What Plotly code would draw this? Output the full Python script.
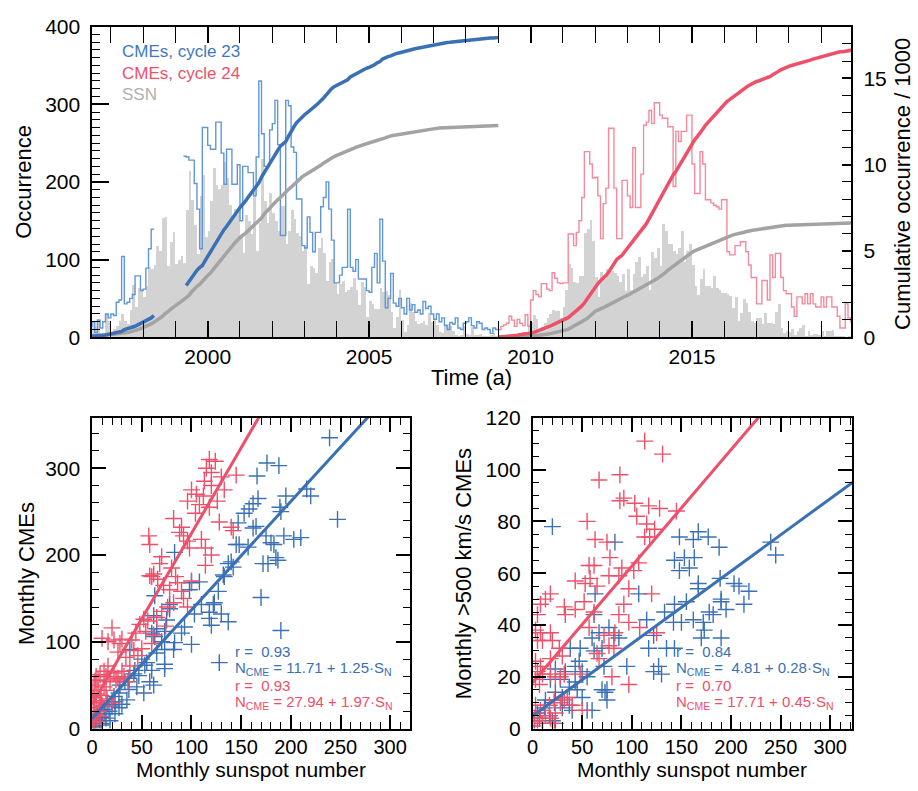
import numpy as np
import plotly.graph_objects as go

W, H = 918, 791
FONT = "Liberation Sans, Arial, Helvetica, sans-serif"

BLUE = "#3a70b5"
BLUE_LIGHT = "#5f97d8"
RED = "#ee4f69"
RED_LIGHT = "#f48a9c"
GRAY = "#a3a3a3"
GRAY_BAR = "#d3d3d3"

# ---------------- monthly data ----------------
# Monthly CME counts, cycle 23 (Jan 1996 - Dec 2008); None = SOHO data gap
cme23 = (
    [8, 10, 12, 10, 14, 20, 6, 22, 12, 20, 30, 25]                      # 1996
    + [30, 28, 45, 48, 104, 43, 45, 50, 55, 79, 79, 60]                 # 1997
    + [62, 89, 114, 139, None, None, None, None, None, None, None, None]  # 1998
    + [None, None, None, 233, 232, 228, 228, 198, 165, 114, 270, 270]   # 1999
    + [247, 242, 242, 277, 277, 237, 197, 242, 242, 197, 197, 222]      # 2000
    + [150, 220, 220, 212, 212, 182, 232, 330, 262, 220, 220, 267]      # 2001
    + [275, 305, 248, 131, 131, 305, 298, 245, 238, 178, 178, 118]      # 2002
    + [115, 155, 135, 110, 135, 135, 168, 180, 200, 165, 125, 70]       # 2003
    + [70, 80, 90, 90, 165, 90, 85, 100, 75, 75, 75, 60]                # 2004
    + [58, 90, 108, 70, 152, 98, 38, 50, 82, 44, 40, 50]                # 2005
    + [38, 30, 50, 35, 42, 32, 35, 30, 46, 37, 40, 30]                  # 2006
    + [23, 30, 20, 25, 15, 10, 19, 17, 25, 12, 10, 18]                  # 2007
    + [20, 25, 15, 12, 20, 18, 10, 12, 10, 5, 12, 10]                   # 2008
)
# events in the May 1998 - Mar 1999 data gap, counted in the cumulative total
cme23_gap_total = 1500

# Monthly CME counts, cycle 24 (Jan 2009 - Dec 2019)
cme24 = (
    [10, 14, 16, 18, 27, 22, 14, 23, 18, 15, 29, 14]                    # 2009
    + [48, 60, 55, 52, 69, 69, 62, 60, 83, 76, 70, 69]                  # 2010
    + [70, 70, 133, 133, 118, 135, 150, 180, 239, 239, 223, 205]        # 2011
    + [206, 182, 127, 172, 192, 269, 269, 192, 127, 127, 202, 202]      # 2012
    + [182, 167, 244, 167, 167, 210, 273, 277, 292, 275, 302, 302]      # 2013
    + [286, 282, 282, 271, 271, 194, 265, 252, 265, 265, 286, 286]      # 2014
    + [223, 185, 185, 239, 223, 177, 177, 173, 170, 168, 165, 177]      # 2015
    + [177, 110, 106, 106, 118, 118, 123, 123, 110, 93, 77, 77]         # 2016
    + [43, 43, 73, 73, 48, 106, 77, 108, 108, 77, 60, 56]               # 2017
    + [56, 39, 27, 52, 52, 43, 56, 43, 56, 43, 39, 39]                  # 2018
    + [52, 39, 52, 52, 39, 39, 27, 12, 12, 43, 25, 20]                  # 2019
)

# Monthly sunspot number, cycle 23 (Jan 1996 - Dec 2008)
ssn23 = (
    [19, 7, 15, 8, 9, 20, 14, 24, 3, 2, 30, 22]                         # 1996
    + [7, 11, 15, 22, 30, 22, 18, 36, 68, 39, 64, 63]                   # 1997
    + [53, 67, 91, 89, 94, 118, 111, 154, 155, 92, 123, 136]            # 1998
    + [95, 100, 105, 96, 165, 215, 177, 145, 108, 182, 210, 130]        # 1999
    + [138, 176, 218, 197, 191, 196, 226, 206, 171, 154, 166, 162]      # 2000
    + [131, 109, 158, 150, 133, 189, 111, 148, 230, 176, 148, 186]      # 2001
    + [160, 150, 137, 170, 170, 121, 138, 164, 153, 135, 131, 112]      # 2002
    + [119, 69, 92, 90, 83, 116, 128, 109, 73, 98, 101, 70]             # 2003
    + [56, 69, 73, 59, 62, 65, 77, 61, 42, 72, 65, 27]                  # 2004
    + [47, 44, 37, 37, 64, 59, 60, 55, 33, 13, 27, 62]                  # 2005
    + [23, 7, 16, 45, 33, 21, 18, 19, 22, 16, 32, 20]                   # 2006
    + [25, 16, 7, 6, 18, 18, 15, 9, 4, 1, 3, 15]                        # 2007
    + [5, 3, 14, 4, 4, 5, 1, 1, 2, 4, 6, 1]                             # 2008
)
# Monthly sunspot number, cycle 24 (Jan 2009 - Dec 2019)
ssn24 = (
    [2, 1, 1, 1, 4, 5, 5, 1, 6, 7, 7, 17]                               # 2009
    + [20, 29, 24, 10, 14, 19, 25, 30, 36, 34, 34, 25]                  # 2010
    + [40, 62, 95, 90, 72, 70, 80, 80, 135, 140, 152, 125]              # 2011
    + [78, 52, 84, 75, 88, 85, 86, 83, 80, 72, 82, 60]                  # 2012
    + [88, 62, 82, 97, 104, 78, 82, 92, 62, 110, 102, 115]              # 2013
    + [92, 146, 137, 120, 121, 111, 108, 115, 138, 98, 112, 121]        # 2014
    + [93, 67, 55, 75, 89, 67, 66, 64, 79, 64, 62, 58]                  # 2015
    + [57, 56, 54, 38, 52, 21, 32, 50, 45, 33, 21, 19]                  # 2016
    + [26, 26, 18, 32, 19, 19, 18, 33, 44, 13, 6, 8]                    # 2017
    + [7, 11, 3, 9, 13, 16, 2, 9, 3, 5, 5, 3]                           # 2018
    + [8, 1, 9, 9, 10, 1, 1, 1, 1, 0, 1, 2]                             # 2019
)

start23, start24 = 1996.0, 2009.0

# ---------------- scatter data: (sunspot number, CMEs per month) ----------------
all_c23 = [
    (239, 335), (176, 306), (188, 303), (166, 291), (216, 276), (220, 268), (195, 268),
    (167, 265), (162, 259), (158, 253), (153, 248), (189, 255), (190, 250), (147, 237),
    (165, 233), (162, 231), (247, 241), (175, 222), (193, 222), (210, 220), (203, 218),
    (180, 214), (183, 212), (145, 212), (148, 212), (157, 209), (83, 203), (185, 197),
    (187, 194), (172, 190), (177, 190), (142, 186), (137, 190), (133, 175), (108, 169),
    (100, 168), (98, 160), (63, 153), (170, 151), (123, 145), (122, 143), (78, 143),
    (78, 138), (118, 134), (130, 132), (118, 127), (120, 119), (137, 123), (62, 130),
    (75, 125), (65, 115), (190, 113), (73, 112), (63, 106), (60, 110), (38, 91),
    (70, 100), (73, 91), (82, 91), (100, 97), (128, 76), (50, 80), (55, 76), (73, 74),
    (73, 69), (60, 67), (58, 54), (62, 50), (52, 41), (43, 67), (42, 63), (37, 58),
    (33, 54), (28, 50), (37, 45), (27, 41), (35, 33), (23, 31), (20, 26), (27, 24),
    (17, 20), (13, 17), (8, 13), (7, 9), (3, 6), (12, 22), (22, 37), (15, 28), (5, 17),
    (10, 6), (18, 9), (23, 17), (30, 28), (47, 61), (53, 73), (45, 48), (65, 87),
    (83, 99), (90, 110), (93, 117), (103, 132), (110, 143), (127, 158), (132, 177),
    (140, 192), (2, 4), (1, 2), (4, 10), (9, 4), (14, 12),
]
all_c24 = [
    (118, 310), (124, 308), (115, 300), (120, 295), (113, 285), (120, 280), (130, 290),
    (145, 292), (133, 275), (100, 275), (105, 270), (112, 268), (108, 258), (96, 262),
    (118, 255), (126, 262), (104, 248), (82, 242), (128, 238), (140, 232), (142, 228),
    (90, 232), (88, 226), (92, 222), (57, 222), (58, 212), (110, 218), (114, 208),
    (96, 216), (98, 208), (70, 198), (68, 190), (120, 200), (80, 185), (62, 178),
    (58, 176), (66, 172), (60, 175), (72, 165), (84, 175), (114, 188), (78, 160),
    (86, 168), (90, 158), (100, 170), (92, 150), (82, 145), (96, 140), (70, 135),
    (76, 140), (65, 128), (52, 126), (56, 124), (48, 120), (74, 118), (54, 112),
    (62, 108), (44, 110), (40, 102), (20, 116), (22, 102), (30, 103), (28, 98),
    (10, 104), (16, 100), (60, 98), (42, 90), (46, 84), (50, 92), (26, 88), (34, 82),
    (38, 72), (30, 66), (22, 64), (14, 60), (18, 54), (24, 56), (8, 62), (12, 48),
    (6, 44), (4, 40), (2, 36), (4, 30), (8, 32), (2, 24), (6, 20), (10, 26), (3, 16),
    (1, 10), (5, 8), (2, 50), (6, 56), (12, 66), (16, 72), (4, 60), (0, 44), (1, 30),
    (3, 55), (9, 38), (14, 44), (26, 58), (32, 60), (36, 54), (20, 30), (15, 34),
    (8, 14), (2, 5),
]
fast_c23 = [
    (20, 78), (167, 76), (162, 73), (148, 74), (177, 74), (188, 70), (240, 72), (245, 67),
    (83, 72), (143, 65), (153, 66), (163, 66), (148, 61), (158, 62), (189, 58), (167, 56),
    (167, 54), (203, 56), (208, 55), (218, 53), (63, 52), (107, 52), (190, 50), (190, 49),
    (213, 48), (143, 48), (155, 49), (133, 45), (178, 45), (182, 44), (195, 46), (62, 44),
    (115, 42), (142, 41), (150, 41), (162, 42), (172, 41), (173, 38), (77, 39), (67, 37),
    (82, 36), (87, 35), (60, 35), (122, 36), (170, 35), (190, 35), (38, 31), (48, 31),
    (62, 30), (70, 31), (117, 31), (135, 31), (143, 31), (47, 26), (72, 24), (95, 24),
    (127, 24), (122, 22), (130, 21), (23, 23), (33, 22), (50, 22), (55, 20), (18, 19),
    (28, 19), (43, 18), (37, 16), (45, 15), (23, 14), (70, 15), (73, 14), (75, 11),
    (50, 12), (30, 12), (13, 11), (22, 10), (12, 8), (30, 8), (55, 7), (60, 7), (5, 6),
    (17, 5), (7, 4), (20, 3), (2, 3), (10, 2), (23, 2), (37, 9), (40, 7), (75, 15),
    (43, 24),
]
fast_c24 = [
    (113, 111), (131, 106), (67, 96), (88, 98), (88, 88), (92, 89), (103, 87), (117, 86),
    (128, 85), (145, 84), (105, 82), (115, 79), (123, 77), (55, 80), (63, 73), (75, 72),
    (113, 74), (118, 74), (78, 66), (57, 63), (62, 63), (90, 62), (102, 61), (107, 64),
    (43, 57), (53, 56), (58, 58), (65, 55), (77, 59), (87, 59), (97, 54), (120, 52),
    (18, 52), (13, 50), (8, 48), (32, 47), (43, 46), (52, 49), (62, 45), (92, 48),
    (33, 44), (87, 44), (5, 44), (3, 38), (8, 37), (18, 37), (20, 34), (10, 34), (5, 34),
    (57, 39), (72, 36), (83, 37), (97, 41), (108, 39), (125, 37), (77, 32), (82, 31),
    (27, 31), (30, 28), (18, 27), (67, 27), (65, 29), (3, 26), (8, 24), (5, 22), (10, 21),
    (18, 21), (23, 20), (28, 20), (32, 21), (3, 19), (7, 17), (48, 21), (80, 20), (97, 17),
    (22, 11), (32, 11), (28, 10), (17, 9), (35, 12), (40, 9), (3, 9), (8, 7), (13, 5),
    (18, 4), (5, 3), (22, 2), (10, 2), (0, 1), (2, 4), (50, 7), (23, 6),
]

# linear fits quoted on the panels: (intercept, slope, r)
fit_all_c23 = (11.71, 1.25, 0.93)
fit_all_c24 = (27.94, 1.97, 0.93)
fit_fast_c23 = (4.81, 0.28, 0.84)
fit_fast_c24 = (17.71, 0.45, 0.70)


# ---------------- helpers ----------------
def px(x):
    return x / W


def py(y):
    return 1 - y / H


def step_xy(t0, vals):
    """Monthly step outline; None values break the outline."""
    xs, ys, rx, ry = [], [], [], []
    for i, v in enumerate(vals + [None]):
        if v is None:
            if rx:
                xs += rx + [rx[-1] + 1 / 12, None]
                ys += ry + [ry[-1], None]
                rx, ry = [], []
        else:
            rx.append(t0 + i / 12)
            ry.append(v)
    return xs, ys


def cumulative_xy(t0, vals, gap_total=0):
    """Running total in thousands, plotted at month ends; gaps leave a break."""
    xs, ys = [t0], [0.0]
    total, in_gap = 0.0, False
    for i, v in enumerate(vals):
        if v is None:
            if not in_gap:
                xs.append(None)
                ys.append(None)
                in_gap = True
            continue
        if in_gap:
            total += gap_total
            in_gap = False
        total += v
        xs.append(t0 + (i + 1) / 12)
        ys.append(total / 1000)
    return xs, ys


fig = go.Figure()

# ---------------- top panel ----------------
ssn_all = ssn23 + ssn24
t_ssn = start23 + np.arange(len(ssn_all)) / 12
fig.add_trace(go.Bar(x=t_ssn + 1 / 24, y=ssn_all, width=1 / 12,
                     marker=dict(color=GRAY_BAR, line=dict(width=0)),
                     xaxis="x", yaxis="y", showlegend=False))

for t0, vals, col in [(start23, cme23, BLUE_LIGHT), (start24, cme24, RED_LIGHT)]:
    sx, sy = step_xy(t0, vals)
    fig.add_trace(go.Scatter(x=sx, y=sy, mode="lines", line=dict(color=col, width=1.4, shape="hv"),
                             connectgaps=False, xaxis="x", yaxis="y", showlegend=False))

for t0, vals, col, gap in [(start23, ssn23, GRAY, 0), (start24, ssn24, GRAY, 0),
                           (start23, cme23, BLUE, cme23_gap_total), (start24, cme24, RED, 0)]:
    cx, cy = cumulative_xy(t0, vals, gap)
    fig.add_trace(go.Scatter(x=cx, y=cy, mode="lines", line=dict(color=col, width=3.5),
                             connectgaps=False, xaxis="x", yaxis="y2", showlegend=False))

# ---------------- scatter panels ----------------
s_line = np.array([0, 330])
for pts, col, xa, ya in [
    (all_c23, BLUE, "x2", "y3"), (all_c24, RED, "x2", "y3"),
    (fast_c23, BLUE, "x3", "y4"), (fast_c24, RED, "x3", "y4"),
]:
    sx = [p[0] for p in pts]
    sy = [p[1] for p in pts]
    fig.add_trace(go.Scatter(x=sx, y=sy, mode="markers",
                             marker=dict(symbol="cross-thin", size=12, line=dict(color=col, width=1.4)),
                             xaxis=xa, yaxis=ya, showlegend=False))
for fit, col, xa, ya in [(fit_all_c24, RED, "x2", "y3"), (fit_all_c23, BLUE, "x2", "y3"),
                         (fit_fast_c24, RED, "x3", "y4"), (fit_fast_c23, BLUE, "x3", "y4")]:
    a, b, _ = fit
    fig.add_trace(go.Scatter(x=s_line, y=a + b * s_line, mode="lines",
                             line=dict(color=col, width=3), xaxis=xa, yaxis=ya, showlegend=False))

# ---------------- axes ----------------
tickfont = dict(family=FONT, size=21, color="black")
tickfont_small = dict(family=FONT, size=20, color="black")


def axis(**kw):
    base = dict(showline=True, linecolor="black", linewidth=1.5, ticks="inside",
                tickcolor="black", tickwidth=1.5, showgrid=False, zeroline=False,
                tickfont=tickfont)
    base.update(kw)
    return base


def minor(dt, ln):
    return dict(dtick=dt, ticklen=ln, ticks="inside", tickcolor="black", tickwidth=1.3, showgrid=False)


top_x = [px(86.7), px(851)]
top_y = [py(335), py(15)]
bl_x = [px(86.7), px(406.7)]
br_x = [px(530), px(851.7)]
bot_y = [py(738), py(418)]

fig.update_layout(
    width=W, height=H, margin=dict(l=0, r=0, t=0, b=0),
    paper_bgcolor="white", plot_bgcolor="white", bargap=0, showlegend=False,
    font=dict(family=FONT, color="black"),
    xaxis=axis(domain=top_x, range=[1996.42, 2019.94], tick0=2000, dtick=5, ticklen=17,
               minor=minor(1, 8), mirror="allticks", anchor="y", ticklabelstandoff=0),
    yaxis=axis(domain=top_y, range=[0, 400], dtick=100, ticklen=17, minor=minor(10, 8),
               anchor="x", ticklabelstandoff=6),
    yaxis2=axis(range=[0, 18], dtick=5, ticklen=10, minor=minor(1, 10), overlaying="y",
                side="right", anchor="x", ticklabelstandoff=6),
    xaxis2=axis(domain=bl_x, range=[0, 320], dtick=50, ticklen=14, minor=minor(10, 7),
                mirror="allticks", anchor="y3", ticklabelstandoff=0, tickfont=tickfont_small),
    yaxis3=axis(domain=bot_y, range=[0, 358], dtick=100, ticklen=14, minor=minor(20, 7),
                mirror="allticks", anchor="x2", ticklabelstandoff=6),
    xaxis3=axis(domain=br_x, range=[0, 322], dtick=50, ticklen=14, minor=minor(10, 7),
                mirror="allticks", anchor="y4", ticklabelstandoff=0, tickfont=tickfont_small),
    yaxis4=axis(domain=bot_y, range=[0, 120], dtick=20, ticklen=14, minor=minor(5, 7),
                mirror="allticks", anchor="x3", ticklabelstandoff=6),
)

# ---------------- text ----------------
ann = []


def text(x, y, s, size, color="black", angle=0, xanchor="center"):
    ann.append(dict(x=px(x), y=py(y), xref="paper", yref="paper", text=s, showarrow=False,
                    textangle=angle, xanchor=xanchor, yanchor="middle",
                    font=dict(family=FONT, size=size, color=color)))


# axis titles
text(18, 175, "Occurrence", 22, angle=-90)
text(903, 177, "Cumulative occurrence / 1000", 22, angle=-90)
text(469, 376, "Time (a)", 22)
text(20, 578, "Monthly CMEs", 22, angle=-90)
text(460, 578, "Monthly &gt;500 km/s CMEs", 22, angle=-90)
text(246.7, 780, "Monthly sunspot number", 21)
text(690.8, 780, "Monthly sunspot number", 21)

# key
text(115, 41, "CMEs, cycle 23", 17, "#3f78c0", xanchor="left")
text(115, 63, "CMEs, cycle 24", 17, "#f0506a", xanchor="left")
text(115, 85, "SSN", 17, "#b0b0b0", xanchor="left")


def fit_block(x0, y0, f23, f24):
    step = 17.5
    for k, (f, col) in enumerate([(f23, BLUE), (f24, RED)]):
        a, b, r = f
        text(x0, y0 + 2 * step * k, f"r = \u00a0{r:.2f}", 15, col, xanchor="left")
        text(x0, y0 + 2 * step * k + step,
             f"N<sub>CME</sub> = {a:5.2f} + {b:.2f}\u00b7S<sub>N</sub>".replace("  ", " \u00a0"),
             15, col, xanchor="left")


fit_block(228, 659, fit_all_c23, fit_all_c24)
fit_block(672, 659, fit_fast_c23, fit_fast_c24)

fig.update_layout(annotations=ann)
fig.write_html("out.html")
